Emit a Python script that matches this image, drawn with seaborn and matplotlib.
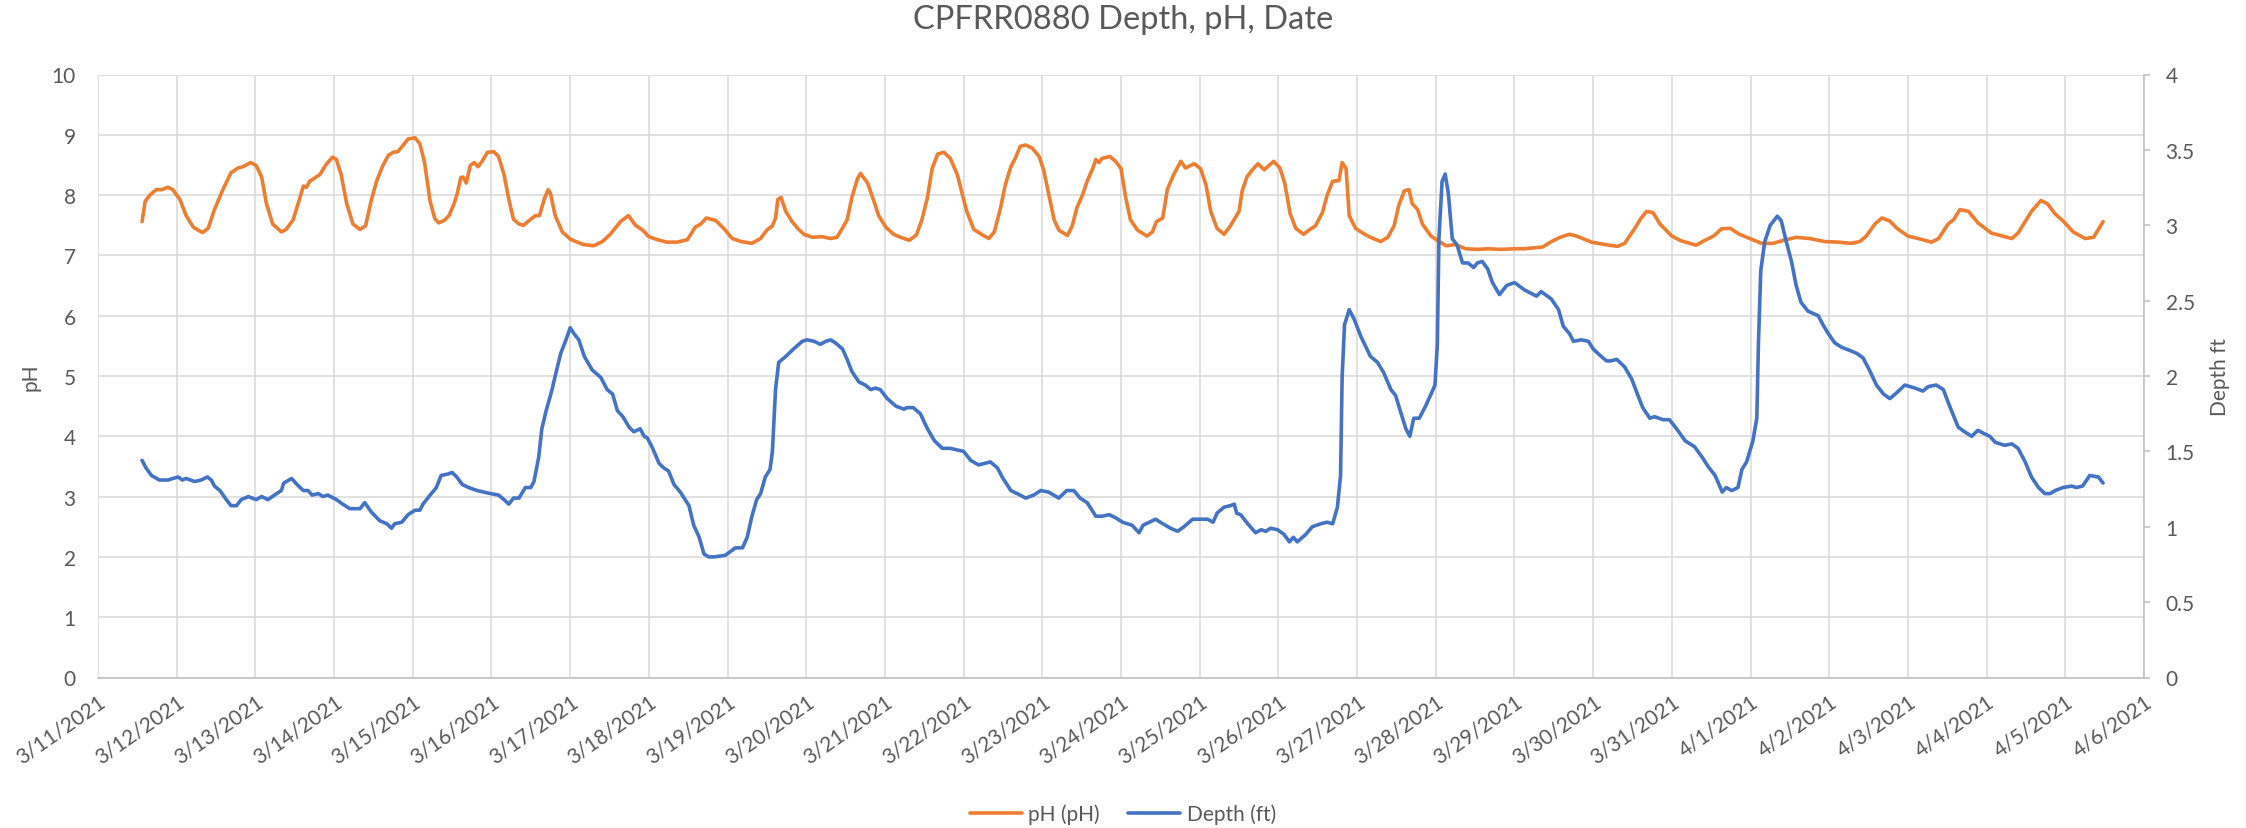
import numpy as np
import pandas as pd
import matplotlib
matplotlib.use("Agg")
import matplotlib.pyplot as plt
import matplotlib.dates as mdates
from matplotlib.ticker import FuncFormatter
import seaborn as sns

# Readings, x = days since 3/11/2021 00:00
start = pd.Timestamp("2021-03-11")

ph_days = [
    0.56, 0.60, 0.66, 0.74, 0.81, 0.89, 0.95, 1.04, 1.12, 1.21, 1.27, 1.33, 1.40, 1.48, 1.59,
    1.69, 1.78, 1.84, 1.94, 2.01, 2.08, 2.14, 2.22, 2.33, 2.39, 2.48, 2.56, 2.61, 2.65, 2.69,
    2.82, 2.90, 2.98, 3.03, 3.09, 3.16, 3.24, 3.33, 3.40, 3.47, 3.54, 3.62, 3.69, 3.75, 3.81,
    3.88, 3.94, 4.03, 4.09, 4.15, 4.22, 4.28, 4.33, 4.40, 4.46, 4.52, 4.56, 4.61, 4.64, 4.68,
    4.73, 4.78, 4.83, 4.88, 4.95, 5.03, 5.09, 5.16, 5.22, 5.28, 5.35, 5.41, 5.47, 5.56, 5.61,
    5.67, 5.72, 5.75, 5.81, 5.90, 6.00, 6.09, 6.17, 6.30, 6.41, 6.51, 6.64, 6.74, 6.83, 6.92,
    7.00, 7.11, 7.23, 7.36, 7.49, 7.59, 7.66, 7.73, 7.85, 7.95, 8.06, 8.17, 8.31, 8.42, 8.50,
    8.57, 8.61, 8.64, 8.68, 8.74, 8.82, 8.89, 8.97, 9.08, 9.20, 9.31, 9.39, 9.46, 9.52, 9.58,
    9.65, 9.69, 9.78, 9.86, 9.92, 10.01, 10.11, 10.20, 10.31, 10.40, 10.47, 10.54, 10.60, 10.67,
    10.75, 10.83, 10.92, 10.98, 11.04, 11.13, 11.24, 11.32, 11.39, 11.47, 11.53, 11.60, 11.66,
    11.72, 11.79, 11.87, 11.96, 12.02, 12.09, 12.15, 12.21, 12.32, 12.38, 12.44, 12.51, 12.57,
    12.64, 12.68, 12.72, 12.76, 12.86, 12.93, 13.00, 13.06, 13.12, 13.21, 13.33, 13.40, 13.45,
    13.53, 13.59, 13.67, 13.76, 13.82, 13.93, 14.01, 14.08, 14.14, 14.22, 14.31, 14.39, 14.50,
    14.54, 14.60, 14.67, 14.74, 14.82, 14.88, 14.94, 15.02, 15.08, 15.15, 15.22, 15.32, 15.39,
    15.47, 15.56, 15.62, 15.69, 15.77, 15.81, 15.86, 15.90, 15.98, 16.07, 16.17, 16.30, 16.39,
    16.47, 16.53, 16.60, 16.66, 16.70, 16.77, 16.83, 16.94, 17.02, 17.13, 17.25, 17.38, 17.53,
    17.66, 17.83, 18.00, 18.13, 18.36, 18.47, 18.58, 18.70, 18.79, 18.98, 19.15, 19.31, 19.40,
    19.53, 19.61, 19.68, 19.76, 19.85, 20.00, 20.12, 20.31, 20.42, 20.53, 20.63, 20.74, 20.86,
    21.01, 21.14, 21.29, 21.39, 21.58, 21.75, 21.94, 22.11, 22.28, 22.39, 22.47, 22.58, 22.67,
    22.77, 22.86, 23.00, 23.13, 23.30, 23.39, 23.51, 23.58, 23.66, 23.77, 23.89, 24.06, 24.32,
    24.40, 24.57, 24.69, 24.77, 24.87, 24.98, 25.10, 25.25, 25.36, 25.48,
]
ph_values = [
    7.56, 7.90, 8.00, 8.09, 8.09, 8.13, 8.09, 7.93, 7.66, 7.47, 7.42, 7.38, 7.45, 7.76, 8.10,
    8.37, 8.45, 8.47, 8.54, 8.49, 8.30, 7.86, 7.52, 7.39, 7.43, 7.59, 7.93, 8.15, 8.13, 8.23,
    8.34, 8.51, 8.63, 8.59, 8.34, 7.86, 7.52, 7.43, 7.49, 7.90, 8.23, 8.49, 8.66, 8.71, 8.72,
    8.83, 8.93, 8.95, 8.85, 8.54, 7.90, 7.61, 7.54, 7.58, 7.66, 7.84, 8.00, 8.29, 8.30, 8.20,
    8.49, 8.54, 8.47, 8.56, 8.71, 8.72, 8.64, 8.34, 7.93, 7.60, 7.52, 7.50, 7.57, 7.66, 7.66,
    7.93, 8.09, 8.03, 7.66, 7.39, 7.27, 7.22, 7.18, 7.16, 7.23, 7.35, 7.56, 7.66, 7.50, 7.42,
    7.31, 7.26, 7.22, 7.22, 7.26, 7.47, 7.52, 7.62, 7.58, 7.45, 7.28, 7.23, 7.20, 7.28, 7.42,
    7.49, 7.62, 7.93, 7.96, 7.73, 7.56, 7.45, 7.35, 7.30, 7.31, 7.28, 7.30, 7.45, 7.59, 7.96,
    8.27, 8.36, 8.20, 7.90, 7.66, 7.47, 7.35, 7.30, 7.25, 7.34, 7.59, 7.96, 8.44, 8.68,
    8.71, 8.61, 8.34, 8.03, 7.73, 7.43, 7.34, 7.28, 7.39, 7.79, 8.17, 8.47, 8.62,
    8.81, 8.83, 8.78, 8.64, 8.40, 7.96, 7.59, 7.42, 7.33, 7.49, 7.79, 8.00, 8.23,
    8.44, 8.59, 8.54, 8.61, 8.64, 8.56, 8.44, 7.96, 7.59, 7.42, 7.32, 7.39, 7.56,
    7.62, 8.10, 8.34, 8.56, 8.45, 8.52, 8.44, 8.17, 7.73, 7.45, 7.35, 7.49, 7.73,
    8.07, 8.30, 8.42, 8.52, 8.42, 8.49, 8.56, 8.45, 8.20, 7.69, 7.45, 7.35, 7.42,
    7.49, 7.71, 8.00, 8.23, 8.24, 8.54, 8.44, 7.66, 7.45, 7.37, 7.30, 7.23, 7.30,
    7.49, 7.83, 8.07, 8.09, 7.86, 7.76, 7.52, 7.32, 7.25, 7.16, 7.18, 7.11, 7.10,
    7.11, 7.10, 7.11, 7.11, 7.14, 7.23, 7.30, 7.35, 7.32, 7.22, 7.18, 7.15, 7.20,
    7.45, 7.62, 7.73, 7.71, 7.52, 7.32, 7.24, 7.17, 7.25, 7.32, 7.44, 7.45, 7.35,
    7.27, 7.20, 7.20, 7.24, 7.30, 7.28, 7.23, 7.22, 7.20, 7.23, 7.32, 7.52, 7.62,
    7.57, 7.45, 7.32, 7.28, 7.22, 7.28, 7.52, 7.59, 7.76, 7.73, 7.54, 7.37, 7.28,
    7.37, 7.73, 7.91, 7.86, 7.69, 7.56, 7.39, 7.28, 7.30, 7.56,
]

depth_days = [
    0.56, 0.61, 0.68, 0.78, 0.89, 0.95, 1.02, 1.07, 1.12, 1.23, 1.31, 1.39, 1.44, 1.48, 1.55,
    1.63, 1.69, 1.76, 1.82, 1.91, 2.01, 2.08, 2.16, 2.27, 2.33, 2.36, 2.46, 2.53, 2.61, 2.67,
    2.72, 2.80, 2.86, 2.92, 3.03, 3.11, 3.20, 3.28, 3.33, 3.39, 3.47, 3.58, 3.67, 3.73, 3.77,
    3.86, 3.94, 4.03, 4.09, 4.13, 4.22, 4.30, 4.36, 4.45, 4.50, 4.56, 4.63, 4.71, 4.82, 4.90,
    4.99, 5.09, 5.16, 5.22, 5.28, 5.35, 5.43, 5.50, 5.54, 5.60, 5.64, 5.69, 5.77, 5.81, 5.88,
    5.94, 6.00, 6.05, 6.11, 6.18, 6.28, 6.39, 6.47, 6.54, 6.60, 6.67, 6.75, 6.81, 6.89, 6.94,
    6.98, 7.04, 7.13, 7.19, 7.25, 7.32, 7.40, 7.51, 7.57, 7.64, 7.70, 7.76, 7.83, 7.97, 8.10,
    8.19, 8.25, 8.31, 8.37, 8.42, 8.48, 8.54, 8.57, 8.61, 8.65, 8.74, 8.84, 8.95, 9.01, 9.10,
    9.18, 9.25, 9.31, 9.37, 9.46, 9.52, 9.58, 9.67, 9.75, 9.82, 9.88, 9.94, 10.03, 10.14, 10.24,
    10.28, 10.36, 10.45, 10.54, 10.63, 10.73, 10.83, 11.00, 11.09, 11.19, 11.34, 11.43, 11.49,
    11.60, 11.68, 11.79, 11.89, 11.98, 12.08, 12.21, 12.31, 12.40, 12.48, 12.57, 12.68, 12.76,
    12.85, 12.93, 13.02, 13.14, 13.23, 13.28, 13.36, 13.44, 13.50, 13.63, 13.72, 13.80, 13.91,
    14.03, 14.10, 14.17, 14.22, 14.31, 14.39, 14.44, 14.47, 14.52, 14.61, 14.71, 14.78, 14.84,
    14.90, 14.99, 15.07, 15.14, 15.19, 15.24, 15.35, 15.43, 15.54, 15.62, 15.69, 15.75, 15.79,
    15.81, 15.84, 15.90, 15.96, 16.05, 16.17, 16.26, 16.34, 16.43, 16.49, 16.56, 16.62, 16.67,
    16.72, 16.79, 16.87, 16.94, 16.99, 17.02, 17.04, 17.08, 17.12, 17.16, 17.21, 17.27, 17.34,
    17.41, 17.48, 17.53, 17.59, 17.66, 17.72, 17.81, 17.90, 18.00, 18.13, 18.28, 18.34, 18.47,
    18.56, 18.62, 18.70, 18.75, 18.85, 18.94, 19.00, 19.08, 19.17, 19.22, 19.30, 19.40, 19.49,
    19.57, 19.63, 19.72, 19.78, 19.89, 19.97, 20.06, 20.17, 20.29, 20.40, 20.46, 20.55, 20.60,
    20.64, 20.69, 20.76, 20.84, 20.89, 20.95, 21.03, 21.08, 21.10, 21.13, 21.18, 21.25, 21.34,
    21.39, 21.45, 21.52, 21.58, 21.64, 21.73, 21.86, 21.92, 21.99, 22.07, 22.16, 22.26, 22.35,
    22.43, 22.51, 22.60, 22.69, 22.77, 22.86, 22.96, 23.09, 23.19, 23.26, 23.36, 23.45, 23.53,
    23.64, 23.72, 23.81, 23.89, 23.96, 24.04, 24.11, 24.23, 24.32, 24.40, 24.49, 24.57, 24.66,
    24.74, 24.81, 24.87, 24.97, 25.08, 25.14, 25.22, 25.31, 25.42, 25.48,
]
depth_values = [
    1.44, 1.39, 1.34, 1.31, 1.31, 1.32, 1.33, 1.31, 1.32, 1.30, 1.31, 1.33, 1.31, 1.27, 1.24,
    1.18, 1.14, 1.14, 1.18, 1.20, 1.18, 1.20, 1.18, 1.22, 1.24, 1.29, 1.32, 1.28, 1.24, 1.24,
    1.21, 1.22, 1.20, 1.21, 1.18, 1.15, 1.12, 1.12, 1.12, 1.16, 1.10, 1.04, 1.02, 0.99, 1.02,
    1.03, 1.08, 1.11, 1.11, 1.15, 1.21, 1.26, 1.34, 1.35, 1.36, 1.33, 1.28, 1.26, 1.24, 1.23,
    1.22, 1.21, 1.18, 1.15, 1.19, 1.19, 1.26, 1.26, 1.30, 1.46, 1.65, 1.76, 1.91, 2.00, 2.15,
    2.23, 2.32, 2.28, 2.24, 2.13, 2.04, 1.99, 1.91, 1.88, 1.77, 1.73, 1.66, 1.63, 1.65, 1.60,
    1.59, 1.53, 1.42, 1.39, 1.37, 1.28, 1.23, 1.14, 1.01, 0.93, 0.82, 0.80, 0.80, 0.81, 0.86,
    0.86, 0.93, 1.07, 1.18, 1.22, 1.33, 1.38, 1.50, 1.91, 2.09, 2.13, 2.18, 2.23, 2.24, 2.23,
    2.21, 2.23, 2.24, 2.22, 2.18, 2.11, 2.03, 1.96, 1.94, 1.91, 1.92, 1.91, 1.85, 1.80, 1.78,
    1.79, 1.79, 1.75, 1.65, 1.57, 1.52, 1.52, 1.50, 1.44, 1.41, 1.43, 1.39, 1.33,
    1.24, 1.22, 1.19, 1.21, 1.24, 1.23, 1.19, 1.24, 1.24, 1.19, 1.16, 1.07, 1.07,
    1.08, 1.06, 1.03, 1.01, 0.96, 1.01, 1.03, 1.05, 1.03, 0.99, 0.97, 1.00, 1.05,
    1.05, 1.05, 1.03, 1.09, 1.13, 1.14, 1.15, 1.09, 1.08, 1.02, 0.96, 0.98, 0.97,
    0.99, 0.98, 0.95, 0.90, 0.93, 0.90, 0.95, 1.00, 1.02, 1.03, 1.02, 1.13, 1.34,
    1.99, 2.34, 2.44, 2.38, 2.26, 2.13, 2.09, 2.02, 1.91, 1.87, 1.75, 1.65, 1.60,
    1.72, 1.72, 1.80, 1.88, 1.94, 2.21, 2.91, 3.29, 3.34, 3.21, 2.91, 2.87, 2.75,
    2.75, 2.72, 2.75, 2.76, 2.71, 2.62, 2.54, 2.60, 2.62, 2.57, 2.53, 2.56, 2.51,
    2.44, 2.33, 2.28, 2.23, 2.24, 2.23, 2.18, 2.14, 2.10, 2.10, 2.11, 2.06, 1.98,
    1.87, 1.79, 1.72, 1.73, 1.71, 1.71, 1.65, 1.57, 1.53, 1.45, 1.40, 1.34, 1.28,
    1.23, 1.26, 1.24, 1.26, 1.38, 1.43, 1.57, 1.72, 2.21, 2.70, 2.89, 3.00, 3.06,
    3.03, 2.90, 2.76, 2.60, 2.49, 2.43, 2.40, 2.34, 2.28, 2.22, 2.19, 2.17, 2.15,
    2.12, 2.04, 1.94, 1.88, 1.85, 1.89, 1.94, 1.92, 1.90, 1.93, 1.94, 1.91, 1.80,
    1.66, 1.63, 1.60, 1.64, 1.62, 1.60, 1.56, 1.54, 1.55, 1.52, 1.43, 1.33, 1.26,
    1.22, 1.22, 1.24, 1.26, 1.27, 1.26, 1.27, 1.34, 1.33, 1.29,
]

ph_df = pd.DataFrame({"time": start + pd.to_timedelta(ph_days, unit="D"), "pH": ph_values})
depth_df = pd.DataFrame({"time": start + pd.to_timedelta(depth_days, unit="D"), "depth": depth_values})

sns.set_style("white")
plt.rcParams["font.family"] = ["Lato", "DejaVu Sans"]
txt = "#595959"
orange = "#ED7D31"
blue = "#4472C4"

W, H = 2246, 829
fig = plt.figure(figsize=(W / 100, H / 100), dpi=100)
ax = fig.add_axes([98 / W, 1 - 678.5 / H, (2144 - 98) / W, (678.5 - 75.5) / H])
ax2 = ax.twinx()

sns.lineplot(data=ph_df, x="time", y="pH", ax=ax, color=orange, linewidth=2.6,
             estimator=None, sort=False, legend=False)
sns.lineplot(data=depth_df, x="time", y="depth", ax=ax2, color=blue, linewidth=2.6,
             estimator=None, sort=False, legend=False)

# axes ranges and ticks
ax.set_xlim(start, start + pd.Timedelta(days=26))
ax.set_ylim(0, 10)
ax.set_yticks(range(0, 11))
ax2.set_ylim(0, 4)
ax2.set_yticks(np.arange(0, 4.01, 0.5))
ax2.yaxis.set_major_formatter(FuncFormatter(lambda v, p: f"{v:g}"))
ax.xaxis.set_major_locator(mdates.DayLocator())

def date_fmt(v, p):
    d = mdates.num2date(v)
    return f"{d.month}/{d.day}/{d.year}"

ax.xaxis.set_major_formatter(FuncFormatter(date_fmt))

ax.grid(True, color="#d9d9d9", linewidth=1.1)
ax.set_axisbelow(True)
for s in ["left", "top", "right"]:
    ax.spines[s].set_visible(False)
    ax2.spines[s if s != "right" else "left"].set_visible(False)
ax2.spines["bottom"].set_visible(False)
ax.spines["bottom"].set_color("#bfbfbf")
ax.spines["bottom"].set_linewidth(1.1)
ax2.spines["right"].set_visible(True)
ax2.spines["right"].set_color("#bfbfbf")
ax2.spines["right"].set_linewidth(1.1)

ax.tick_params(axis="y", length=0, pad=16, labelsize=15, labelcolor=txt)
ax.tick_params(axis="x", length=0, pad=10, labelsize=15, labelcolor=txt)
ax2.tick_params(axis="y", length=4.5, width=1.1, color="#bfbfbf", pad=11,
                labelsize=15, labelcolor=txt)
for lab in ax.get_xticklabels():
    lab.set_rotation(35)
    lab.set_ha("right")
    lab.set_va("top")
    lab.set_rotation_mode("anchor")

ax.set_xlabel("")
ax.set_ylabel("pH", fontsize=15, color=txt)
ax.yaxis.set_label_coords((31 - 98) / 2046, 0.5)
ax.yaxis.label.set_va("center")
ax2.set_ylabel("Depth ft", fontsize=15, color=txt, rotation=90)
ax2.yaxis.set_label_coords((2220 - 98) / 2046, 0.5)
ax2.yaxis.label.set_va("center")

fig.text(0.5, 1 - 20 / H, "CPFRR0880 Depth, pH, Date", ha="center", va="center",
         fontsize=23.5, color=txt)

handles = [ax.lines[0], ax2.lines[0]]
fig.legend(handles, ["pH (pH)", "Depth (ft)"], loc="center", bbox_to_anchor=(0.5, 1 - 815 / H),
           ncol=2, frameon=False, fontsize=15, handlelength=2.5, handletextpad=0.3,
           columnspacing=1.35, labelcolor=txt)

fig.savefig("out.png", dpi=100)
